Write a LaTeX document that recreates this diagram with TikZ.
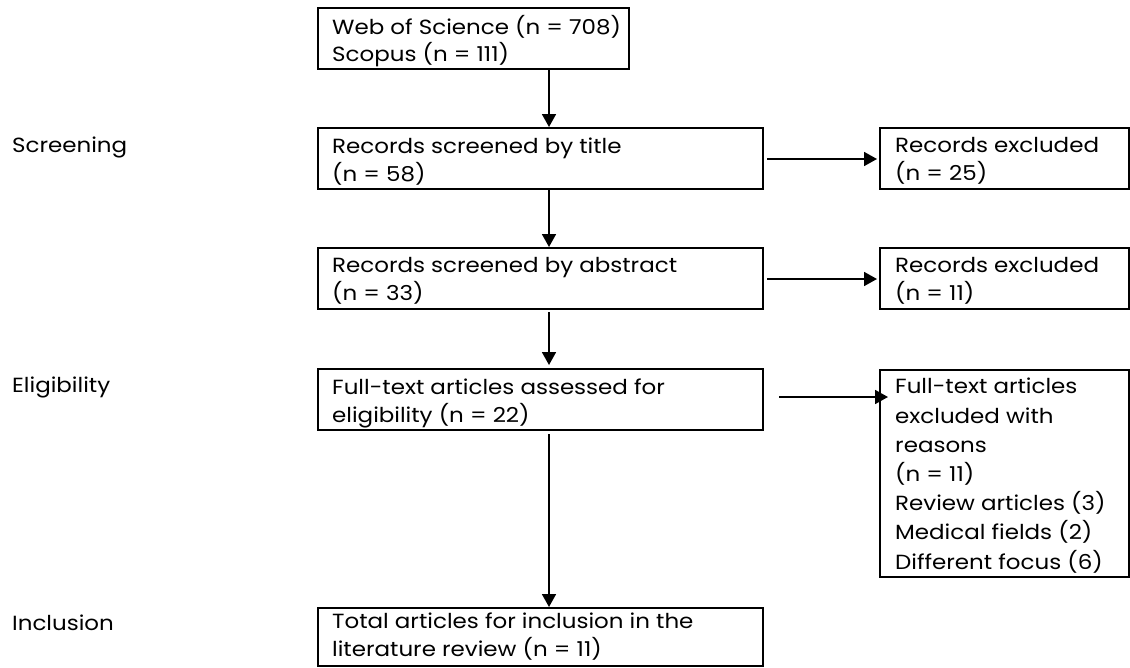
\documentclass[tikz,border=0pt]{standalone}
\usepackage{fontspec}
\setmainfont[FakeStretch=1.12]{Poppins}
\usetikzlibrary{arrows.meta,calc}
\begin{document}
\begin{tikzpicture}[x=1pt,y=-1pt,
  box/.style={draw, line width=2.2pt, rectangle, inner sep=0pt, anchor=north west},
  txt/.style={anchor=north west, inner sep=0pt, align=left, font=\fontsize{20.5}{28}\selectfont},
  side/.style={anchor=base west, inner sep=0pt, font=\fontsize{20.5}{28}\selectfont},
  arr/.style={line width=1.8pt, -{Triangle[length=13pt,width=14pt]}}]
\useasboundingbox (0,0) rectangle (1130,667);
% boxes
\node[box, minimum width=311pt, minimum height=61pt] (b1) at (317,7) {};
\node[box, minimum width=445pt, minimum height=61pt] (b2) at (317,127) {};
\node[box, minimum width=445pt, minimum height=61pt] (b3) at (317,247) {};
\node[box, minimum width=445pt, minimum height=61pt] (b4) at (317,368) {};
\node[box, minimum width=445pt, minimum height=58pt] (b5) at (317,607) {};
\node[box, minimum width=249pt, minimum height=61pt] (e1) at (879,127) {};
\node[box, minimum width=249pt, minimum height=61pt] (e2) at (879,247) {};
\node[box, minimum width=249pt, minimum height=207pt] (e3) at (879,369) {};
% texts
\node[txt, font=\fontsize{20.5}{27}\selectfont] (t1) at ($(b1.north west)+(15,8)$) {Web of Science (n = 708)\\Scopus (n = 111)};
\node[txt] (t2) at ($(b2.north west)+(15,10.5)$) {Records screened by title\\(n = 58)};
\node[txt] (t3) at ($(b3.north west)+(15,10.5)$) {Records screened by abstract\\(n = 33)};
\node[txt] (t4) at ($(b4.north west)+(15,11)$) {Full-text articles assessed for\\eligibility (n = 22)};
\node[txt] (t5) at ($(b5.north west)+(15,6)$) {Total articles for inclusion in the\\literature review (n = 11)};
\node[txt] (u1) at ($(e1.north west)+(16,10.5)$) {Records excluded\\(n = 25)};
\node[txt] (u2) at ($(e2.north west)+(16,10.5)$) {Records excluded\\(n = 11)};
\node[txt, font=\fontsize{20.5}{29.2}\selectfont] (u3) at ($(e3.north west)+(16,9)$) {Full-text articles\\excluded with\\reasons\\(n = 11)\\Review articles (3)\\Medical fields (2)\\Different focus (6)};
% side labels
\node[side] (s1) at (12,152) {Screening};
\node[side] (s2) at (12,392) {Eligibility};
\node[side] (s3) at (12,630) {Inclusion};
% arrows
\draw[arr] ([xshift=232pt]b1.south west) -- ([xshift=232pt]b2.north west);
\draw[arr] ([xshift=232pt]b2.south west) -- ([xshift=232pt]b3.north west);
\draw[arr] ($(b3.south west)+(232,2)$) -- ($(b4.north west)+(232,-3)$);
\draw[arr] ($(b4.south west)+(232,3)$) -- ([xshift=232pt]b5.north west);
\draw[arr] ($(b2.north east)+(3,32)$) -- ($(e1.north west)+(-2,32)$);
\draw[arr] ($(b3.north east)+(3,32)$) -- ($(e2.north west)+(-2,32)$);
\draw[arr] ($(b4.north east)+(15,29)$) -- ($(e3.north west)+(9,28)$);
\end{tikzpicture}
\end{document}
